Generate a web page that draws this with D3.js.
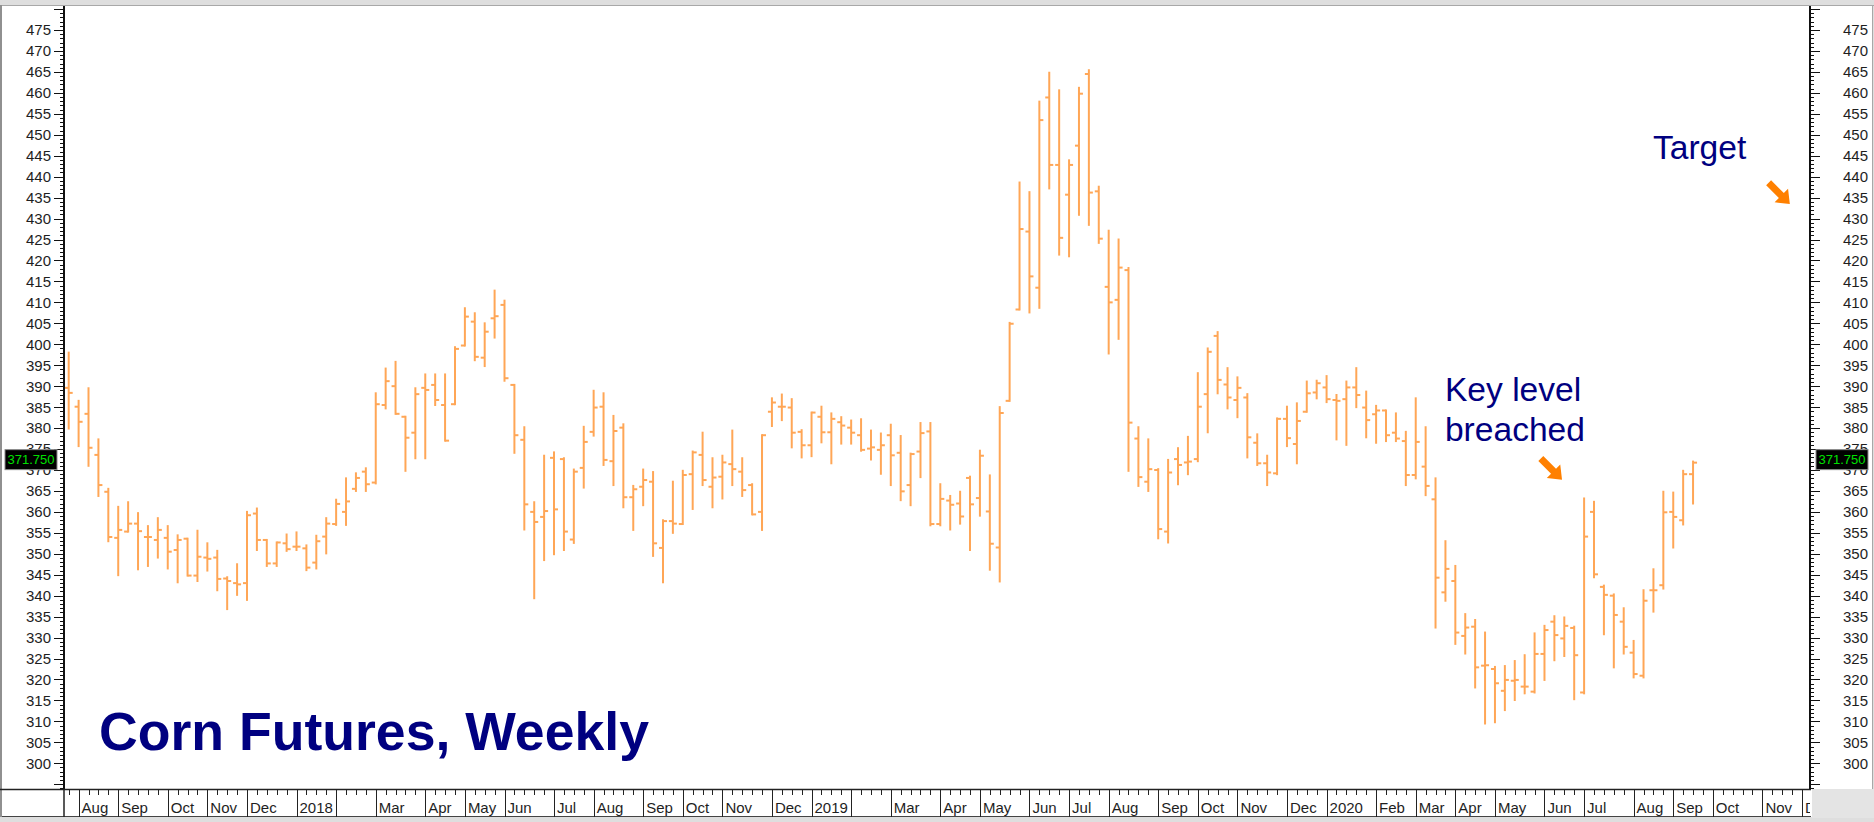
<!DOCTYPE html>
<html><head><meta charset="utf-8">
<script src="https://cdn.jsdelivr.net/npm/d3@7"></script>
<style>html,body{margin:0;padding:0;background:#fff;overflow:hidden}svg{display:block}</style>
</head><body><svg id="c" width="1874" height="822"></svg>
<script>
// ---------- DATA (weekly corn futures, cents/bu) ----------
const firstWeek = "2017-07-28";
const opens  = [389.6,385.1,383.4,373.6,364.8,353.8,355.3,357.2,354.0,353.3,353.8,350.9,353.6,344.8,349.1,349.1,344.1,343.0,343.0,359.6,
353.3,347.7,352.5,351.7,351.3,347.9,354.1,357.1,360.0,365.5,369.6,367.0,385.5,390.0,382.7,378.9,389.6,390.3,385.5,385.7,
399.7,405.4,396.8,406.2,409.4,390.3,377.2,360.0,358.8,372.9,372.6,353.4,370.5,379.1,385.1,372.1,380.1,363.5,366.0,367.2,
351.4,357.8,357.1,369.0,373.6,366.0,368.4,371.4,369.6,366.4,360.0,383.9,385.1,384.9,379.1,375.9,382.7,379.0,381.4,380.1,
378.3,375.1,374.8,378.3,374.1,366.4,374.4,379.2,357.1,362.7,362.0,368.1,363.3,360.1,351.5,386.5,408.3,426.9,413.5,458.9,
442.8,435.7,447.4,464.5,436.5,413.7,410.6,417.7,377.5,367.2,370.0,355.3,372.6,371.8,372.6,388.1,402.0,390.4,386.7,387.3,
376.5,371.6,369.2,382.2,376.2,383.9,388.5,389.7,386.7,386.9,389.7,384.9,383.3,384.2,378.9,376.9,368.8,370.8,363.0,340.8,
343.5,330.4,332.6,323.3,322.5,317.3,319.7,318.3,317.1,326.1,333.8,329.8,332.3,316.9,360.0,342.1,340.0,333.8,326.4,320.9,
341.3,342.5,360.0,358.0,369.0];
const highs  = [398.0,386.5,389.5,377.3,365.5,361.2,362.3,359.7,356.6,358.5,356.6,354.4,353.6,355.5,352.5,350.7,344.4,347.5,360.0,360.8,
353.3,352.7,354.6,355.1,352.0,354.3,358.5,362.9,368.0,369.2,370.4,388.3,394.2,395.8,382.7,389.5,392.8,392.8,392.8,399.3,
408.6,407.4,405.0,412.8,410.4,390.3,380.2,362.3,373.4,374.2,372.8,370.1,380.3,388.9,388.3,382.9,380.9,366.2,370.1,369.5,
358.0,367.2,369.8,374.4,378.9,372.8,373.4,379.4,372.8,366.6,378.3,387.1,388.0,386.9,379.5,383.7,385.1,383.5,382.6,381.8,
382.1,379.4,378.7,380.8,378.1,373.9,381.2,381.2,366.6,363.8,364.8,368.4,374.6,368.7,385.0,405.1,438.6,436.3,457.9,464.8,
460.6,443.9,461.2,465.4,437.6,427.1,425.0,418.2,380.2,377.3,370.2,372.4,375.2,377.9,393.1,399.0,402.9,394.3,392.1,388.1,
378.5,373.4,382.3,385.1,385.9,391.1,391.3,392.4,387.9,391.1,394.3,388.7,385.3,384.2,383.5,379.1,387.1,380.2,368.0,353.0,
347.1,335.6,334.2,331.2,323.0,323.2,324.4,325.8,331.0,332.8,335.1,334.8,332.6,363.2,362.4,342.4,340.3,337.0,329.2,341.3,
346.3,364.8,364.6,369.8,372.0];
const lows   = [379.9,375.7,371.0,363.8,353.0,344.9,355.3,346.3,347.1,349.1,346.5,343.2,344.8,343.5,346.0,341.3,336.8,340.2,339.0,350.9,
347.1,347.1,350.7,350.9,346.1,346.5,350.1,356.9,356.9,365.0,365.0,366.8,384.7,383.4,369.8,372.8,372.8,385.5,377.0,385.7,
399.7,396.2,394.8,401.6,391.3,374.1,355.8,339.4,348.5,349.9,350.9,352.6,365.8,378.2,371.2,366.4,361.1,355.7,361.6,349.5,
343.2,355.0,357.1,360.7,366.4,361.1,363.2,366.4,363.8,359.4,355.7,380.5,381.9,375.4,373.0,373.3,376.6,371.6,376.3,376.3,
374.6,372.5,369.1,366.4,362.8,361.6,368.3,356.8,356.8,355.8,357.2,350.9,359.1,346.2,343.4,386.5,408.3,407.6,408.7,437.2,
421.4,421.0,430.9,428.5,424.2,397.8,401.3,369.8,366.2,365.0,353.7,352.7,366.6,369.0,372.1,379.0,388.3,384.7,382.6,373.0,
371.2,366.4,369.0,375.7,371.6,383.9,387.1,386.2,377.3,376.0,385.0,377.8,376.5,376.9,376.9,366.4,368.0,364.0,332.4,338.8,
328.5,326.2,318.1,309.5,309.8,312.7,315.1,316.7,316.9,319.9,324.6,325.6,315.3,316.7,344.4,330.8,322.9,326.2,320.5,320.5,
336.2,341.7,351.5,357.0,362.0];
const closes = [388.4,381.5,375.3,366.4,354.0,355.7,357.2,355.4,354.0,355.7,350.5,353.3,344.8,349.3,348.8,344.0,343.5,342.7,359.2,353.3,
347.7,352.7,351.1,351.7,346.7,353.0,357.2,361.9,362.5,368.1,366.6,385.7,391.2,383.4,377.7,388.1,389.1,386.7,377.0,398.9,
406.6,397.0,403.0,406.7,391.9,378.3,361.8,357.6,360.2,360.6,355.3,369.6,376.7,384.9,372.4,379.3,363.5,365.4,367.6,352.5,
357.8,357.2,368.8,374.2,367.6,368.2,371.8,370.2,365.2,359.4,378.3,386.1,385.1,378.9,375.9,383.7,379.0,382.2,380.6,378.9,
374.8,375.4,375.9,373.5,364.9,373.8,378.8,357.1,363.1,361.7,358.9,361.8,373.4,352.4,383.6,404.9,427.5,416.2,453.5,442.8,
425.4,442.8,459.8,436.2,425.2,410.0,418.3,381.3,368.3,370.2,355.9,369.4,371.2,372.0,385.1,398.2,391.5,387.3,389.6,377.8,
371.6,369.4,382.2,377.6,381.7,388.3,390.7,386.9,386.5,389.7,387.9,381.9,384.2,378.3,377.5,368.8,376.7,366.2,344.3,346.4,
331.2,332.4,322.9,323.4,319.1,319.9,319.9,318.3,326.1,331.8,330.6,332.8,325.8,354.1,345.1,340.2,335.4,327.8,321.3,338.8,
341.3,359.9,358.8,369.0,371.75];
const lastPrice = 371.75;
const monthLabels = ["Aug","Sep","Oct","Nov","Dec",
  "2018","","Mar","Apr","May","Jun","Jul","Aug","Sep","Oct","Nov","Dec",
  "2019","","Mar","Apr","May","Jun","Jul","Aug","Sep","Oct","Nov","Dec",
  "2020","Feb","Mar","Apr","May","Jun","Jul","Aug","Sep","Oct","Nov","Dec"];
const priceLabels = d3.range(300, 476, 5);
const titleText = "Corn Futures, Weekly";
const noteTarget = "Target";
const noteKey = ["Key level", "breached"];

// ---------- LAYOUT ----------
const W = 1874, H = 822;
const plot = {left: 64, right: 1811, top: 6, bottom: 789};
const stripBottom = 817;
const barColor = "#ffa656";
const navy = "#000080";
const arrowColor = "#ff8000";
const font = "Arial, 'Liberation Sans', sans-serif";

const svg = d3.select("#c");
const N = opens.length;
const totalWeeks = 176;
const start = d3.timeParse("%Y-%m-%d")(firstWeek);
const weeks = d3.range(totalWeeks + 1).map(i => d3.timeDay.offset(start, 7 * i));

const x = d3.scaleLinear().domain([0, 175]).range([68.7, 1802]);
const y = d3.scaleLinear().domain([300, 475]).range([763.3, 30]);

// background / frame
svg.append("rect").attr("width", W).attr("height", H).attr("fill", "#dedede");
svg.append("rect").attr("x", 2).attr("y", 6).attr("width", 1870).attr("height", stripBottom - 6).attr("fill", "#fff");
svg.append("rect").attr("x", plot.right + 1).attr("y", plot.bottom).attr("width", W - plot.right).attr("height", stripBottom - plot.bottom + 1).attr("fill", "#e4e4e4");
svg.append("line").attr("x1", 0).attr("x2", W).attr("y1", 5.5).attr("y2", 5.5).attr("stroke", "#a8a8a8");
svg.append("line").attr("x1", 1).attr("x2", 1).attr("y1", 5).attr("y2", stripBottom).attr("stroke", "#909090").attr("stroke-width", 2);
svg.append("line").attr("x1", 1872.5).attr("x2", 1872.5).attr("y1", 5).attr("y2", plot.bottom).attr("stroke", "#a8a8a8");

// clip for plot
svg.append("clipPath").attr("id", "pc").append("rect")
  .attr("x", plot.left + 1).attr("y", plot.top).attr("width", plot.right - plot.left - 2).attr("height", plot.bottom - plot.top);

// ---------- BARS ----------
const bars = svg.append("g").attr("clip-path", "url(#pc)")
  .attr("stroke", barColor).attr("stroke-width", 2).attr("fill", "none");
const data = d3.range(N).map(i => ({i, o: opens[i], h: highs[i], l: lows[i], c: closes[i]}));
const g = bars.selectAll("g.bar").data(data).join("g").attr("class", "bar");
g.append("line").attr("x1", d => x(d.i)).attr("x2", d => x(d.i))
  .attr("y1", d => y(d.h) - 1).attr("y2", d => y(d.l) + 1);
g.append("line").attr("x1", d => x(d.i) - 4).attr("x2", d => x(d.i))
  .attr("y1", d => y(d.o)).attr("y2", d => y(d.o));
g.append("line").attr("x1", d => x(d.i)).attr("x2", d => x(d.i) + 4)
  .attr("y1", d => y(d.c)).attr("y2", d => y(d.c));

// ---------- Y AXES ----------
const minorVals = d3.range(294, 481, 1);
function yAxis(side) {
  const ax = side === "left" ? plot.left : plot.right - 1;
  const dir = side === "left" ? -1 : 1;
  const ga = svg.append("g");
  ga.append("line").attr("x1", ax).attr("x2", ax).attr("y1", plot.top).attr("y2", plot.bottom)
    .attr("stroke", "#111").attr("stroke-width", 2);
  ga.selectAll("line.t").data(minorVals).join("line").attr("class", "t")
    .attr("x1", ax).attr("x2", v => ax + dir * (v % 5 === 0 ? 10 : 4))
    .attr("y1", v => Math.round(y(v)) + 0.5).attr("y2", v => Math.round(y(v)) + 0.5)
    .attr("stroke", "#111").attr("stroke-width", 1);
  ga.selectAll("text").data(priceLabels).join("text")
    .attr("x", side === "left" ? 51 : 1843)
    .attr("y", v => y(v)).attr("dy", "0.36em")
    .attr("text-anchor", side === "left" ? "end" : "start")
    .attr("font-family", font).attr("font-size", 15).attr("fill", "#1e1e1e")
    .text(v => v);
  // last price marker
  const bx = side === "left" ? 5 : 1816;
  const yc = y(lastPrice) - 3;
  ga.append("rect").attr("x", bx).attr("y", yc - 10).attr("width", 52).attr("height", 20)
    .attr("fill", "#000").attr("stroke", "#8a8a8a").attr("stroke-width", 1);
  ga.append("text").attr("x", bx + 26).attr("y", yc).attr("dy", "0.36em").attr("text-anchor", "middle")
    .attr("font-family", font).attr("font-size", 13).attr("fill", "#00e000")
    .text(d3.format(".3f")(lastPrice));
}
yAxis("left");
yAxis("right");

// ---------- X (month) AXIS ----------
const xa = svg.append("g");
xa.append("line").attr("x1", 0).attr("x2", plot.right).attr("y1", plot.bottom + 0.5).attr("y2", plot.bottom + 0.5).attr("stroke", "#222").attr("stroke-width", 1.5);
xa.append("line").attr("x1", 2).attr("x2", plot.right).attr("y1", stripBottom - 0.5).attr("y2", stripBottom - 0.5).attr("stroke", "#444");
xa.append("line").attr("x1", plot.left).attr("x2", plot.left).attr("y1", plot.bottom).attr("y2", stripBottom).attr("stroke", "#222").attr("stroke-width", 1.5);
xa.append("clipPath").attr("id", "xc").append("rect").attr("x", plot.left).attr("y", plot.bottom).attr("width", plot.right - plot.left - 1).attr("height", 30);
const xg = xa.append("g").attr("clip-path", "url(#xc)");
const weekIdx = d3.range(0, totalWeeks + 1);
xg.selectAll("line.wk").data(weekIdx).join("line").attr("class", "wk")
  .attr("x1", i => Math.round(x(i)) + 0.5).attr("x2", i => Math.round(x(i)) + 0.5)
  .attr("y1", plot.bottom).attr("y2", plot.bottom + 6).attr("stroke", "#222");
const monthStarts = weekIdx.filter(i => i > 0 && weeks[i].getMonth() !== weeks[i - 1].getMonth());
const months = monthStarts.map((i, k) => ({i, label: monthLabels[k] || ""}));
xg.selectAll("line.ms").data(months).join("line").attr("class", "ms")
  .attr("x1", d => Math.round(x(d.i)) + 0.5).attr("x2", d => Math.round(x(d.i)) + 0.5)
  .attr("y1", plot.bottom).attr("y2", stripBottom).attr("stroke", "#222");
xg.selectAll("text").data(months).join("text")
  .attr("x", d => x(d.i) + 3).attr("y", 813)
  .attr("font-family", font).attr("font-size", 15).attr("fill", "#1e1e1e")
  .text(d => d.label);

// ---------- ANNOTATIONS ----------
svg.append("text").attr("x", x(3.06)).attr("y", y(303.2))
  .attr("font-family", font).attr("font-weight", "bold").attr("font-size", 53.6).attr("fill", navy)
  .text(titleText);
svg.append("text").attr("x", x(159.95)).attr("y", y(444.2))
  .attr("font-family", font).attr("font-size", 33.6).attr("fill", navy).text(noteTarget);
svg.append("text").attr("x", x(138.95)).attr("y", y(386.5))
  .attr("font-family", font).attr("font-size", 33.6).attr("fill", navy)
  .selectAll("tspan").data(noteKey).join("tspan")
  .attr("x", x(138.95)).attr("dy", (d, k) => k === 0 ? 0 : 40).text(d => d);

const arrowPts = [[-15,-3.5],[3,-3.5],[3,-9.5],[15,0],[3,9.5],[3,3.5],[-15,3.5]];
function arrow(idx, price) {
  svg.append("polygon").attr("points", arrowPts.map(p => p.join(",")).join(" "))
    .attr("fill", arrowColor)
    .attr("transform", `translate(${x(idx)},${y(price)}) rotate(45)`);
}
arrow(149.7, 370.2);
arrow(172.7, 436.0);
</script>
</body></html>
